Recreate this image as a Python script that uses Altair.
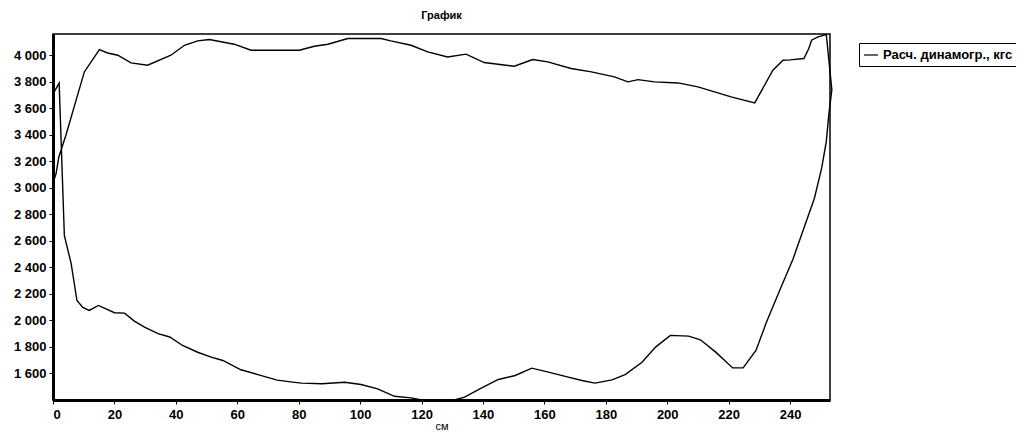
import altair as alt
import pandas as pd

# Path of the dynamogram loop, in drawing order
x_cm = [0, 0.3, 2.0, 3.7, 5.9, 7.8, 9.7, 11.8, 14.8, 20.0, 23.3, 26.5, 29.8, 34.2, 38.0,
        42.2, 47.1, 51.5, 55.3, 61.2, 67, 73, 78, 81, 87.5, 95, 100.3, 105.7, 111.2, 116.6,
        120, 130.7, 134, 139.6, 145, 150.5, 155.9, 161.3, 167.8, 172.2, 176.5, 182, 186.3,
        191.8, 196.2, 201, 207, 210.8, 215.8, 221.3, 224.7, 228.9, 232.2, 236.5, 240.9,
        244.4, 247.9, 250.3, 251.8, 252.6, 253.6, 251.8, 249.1, 247, 246.1, 244.5, 240,
        237.7, 234.4, 228.5, 220.8, 210, 203.5, 195.9, 190.5, 187.2, 182.8, 175.3, 168.7,
        161.1, 156.2, 150.2, 140.4, 134.5, 128.5, 122, 116.6, 110, 106.8, 96, 89.5, 85.1,
        80.2, 64.5, 59, 50.9, 47.1, 42.8, 38.4, 30.8, 25.4, 21.1, 17.8, 15.1, 10.2, 4.2,
        1.9, 1.0, 0.2]
load_kgf = [2880, 3720, 3790, 2640, 2430, 2150, 2098, 2075, 2113, 2058, 2055, 1995, 1950, 1900, 1875,
            1811, 1760, 1723, 1698, 1628, 1590, 1550, 1535, 1527, 1522, 1534, 1517, 1484, 1428, 1416,
            1400, 1400, 1421, 1492, 1555, 1585, 1640, 1610, 1573, 1547, 1527, 1552, 1592,
            1685, 1799, 1887, 1882, 1854, 1761, 1642, 1642, 1774, 1980, 2220, 2460,
            2690, 2920, 3150, 3350, 3550, 3740, 4155, 4138, 4113, 4050, 3975, 3965,
            3962, 3887, 3640, 3686, 3761, 3791, 3799, 3816, 3799, 3837, 3874, 3900,
            3950, 3967, 3917, 3945, 4008, 3987, 4025, 4075, 4108, 4126, 4126, 4083, 4068,
            4038, 4038, 4083, 4118, 4108, 4075, 4000, 3925, 3942, 4000, 4017, 4043, 3874, 3396,
            3233, 3107, 3050]

series_name = "Расч. динамогр., кгс"
x_ticks = [0, 20, 40, 60, 80, 100, 120, 140, 160, 180, 200, 220, 240]
y_ticks = [1600, 1800, 2000, 2200, 2400, 2600, 2800, 3000, 3200, 3400, 3600, 3800, 4000]

df = pd.DataFrame({"x": x_cm, "y": load_kgf, "i": list(range(len(x_cm))), "s": series_name})

FONT = "Liberation Sans"

chart = alt.Chart(df).mark_line(color="black", strokeWidth=1.4).encode(
    x=alt.X("x:Q", scale=alt.Scale(domain=[0, 253], nice=False, zero=False),
            axis=alt.Axis(values=x_ticks, title="см", grid=False, format="d",
                          domainWidth=3, domainColor="black", tickColor="black",
                          tickSize=4, labelPadding=4, labelFontSize=13, labelFont=FONT,
                          labelFontWeight="bold", labelColor="black", titleFont=FONT,
                          titleFontSize=11, titleFontWeight="normal", titleColor="black",
                          titleY=29, titleBaseline="alphabetic")),
    y=alt.Y("y:Q", scale=alt.Scale(domain=[1400, 4160], nice=False, zero=False),
            axis=alt.Axis(values=y_ticks, title=None, grid=False,
                          labelExpr="replace(format(datum.value, ','), ',', ' ')",
                          domainWidth=3, domainColor="black", tickColor="black",
                          tickSize=4, labelPadding=3, labelFontSize=13, labelFont=FONT,
                          labelFontWeight="bold", labelColor="black")),
    order="i:Q",
    color=alt.Color("s:N", scale=alt.Scale(range=["black"]),
                    legend=alt.Legend(title=None, orient="none", legendX=806, legendY=9,
                                      strokeColor="black", fillColor="white", padding=4,
                                      symbolType="stroke", symbolSize=200, symbolStrokeWidth=1.2,
                                      labelFont=FONT, labelFontSize=13, labelFontWeight="bold",
                                      labelColor="black")),
).properties(
    width=777, height=366,
    title=alt.TitleParams("График", font=FONT, fontSize=11, fontWeight="bold",
                          color="black", anchor="middle", offset=11),
    autosize=alt.AutoSizeParams(type="none"),
    padding={"left": 45, "top": 26, "right": 186, "bottom": 31},
).configure_view(stroke="black", strokeWidth=1.5)

chart.save("out.html", embed_options={"renderer": "svg", "actions": False})
